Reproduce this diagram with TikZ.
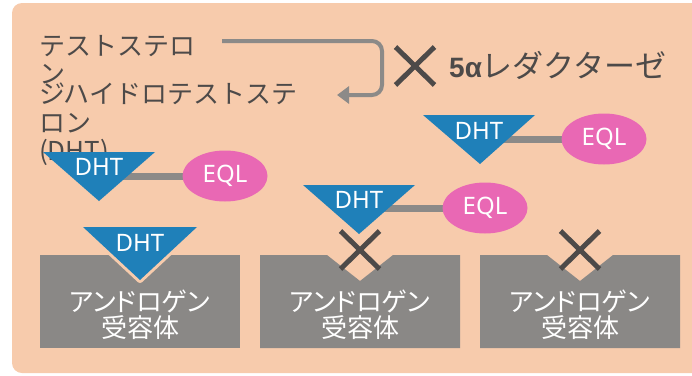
\documentclass[tikz,border=0pt]{standalone}
\usepackage{fontspec}
\setmainfont{Noto Sans CJK JP}
\newfontfamily\jpprop[RawFeature=+palt]{Noto Sans CJK JP}
\newfontfamily\latinsans{Noto Sans}
\newfontfamily\enzfont{Liberation Sans}
\usetikzlibrary{arrows.meta,shapes.geometric,shapes.misc}
\definecolor{peach}{HTML}{F7CBAC}
\definecolor{boxgray}{HTML}{8A8886}
\definecolor{linegray}{HTML}{8C8A88}
\definecolor{dhtblue}{HTML}{1F80B9}
\definecolor{eqlpink}{HTML}{E968B4}
\definecolor{darktext}{HTML}{4D4A49}
\pgfdeclarelayer{back}
\pgfdeclarelayer{links}
\pgfsetlayers{back,links,main}
\tikzset{
  toptext/.style={anchor=base west, inner sep=0pt, text=darktext, font=\fontsize{26}{29}\selectfont},
  arrowline/.style={draw=linegray, line width=4pt, rounded corners=10pt, -{Triangle[length=12pt,width=17pt]}},
  link/.style={draw=linegray, line width=7pt},
  dhtlabel/.style={inner sep=0pt, text=white, font=\latinsans\fontsize{24}{26}\selectfont},
  eql/.style={ellipse, fill=eqlpink, inner sep=0pt, minimum width=85pt, minimum height=51pt, text=white, font=\latinsans\fontsize{24}{26}\selectfont},
  crossmark/.style={cross out, draw=darktext, line width=5pt, inner sep=0pt, minimum width=34pt, minimum height=33pt},
  boxtext/.style={inner sep=0pt, text=white, align=center, font=\jpprop\fontsize{26}{26}\selectfont},
}
\begin{document}
\begin{tikzpicture}[x=1pt,y=-1pt]
\useasboundingbox (0,0) rectangle (692,375);
\begin{pgfonlayer}{back}
\begin{scope}
\clip (0,0) rectangle (692,375);
\fill[peach, rounded corners=10pt] (12,3) rectangle (720,373);
\end{scope}
\end{pgfonlayer}

% top texts
\node[toptext] (ts1) at (39,55) {テストステロ};
\node[toptext] (ts2) at (39,83) {ン};
\node[toptext] (dh1) at (39,103) {ジハイドロテストステ};
\node[toptext] (dh2) at (39,132) {ロン};
\node[toptext] (dh3) at (39,160) {(DHT)};

% conversion arrow
\coordinate (a0) at (222,41);
\coordinate (a1) at (337,95);
\draw[arrowline] (a0) -- (382,41) -- (382,95) -- (a1);

% blocked enzyme
\node[crossmark] (x0) at (415,66) {};
\node[anchor=base west, inner sep=0pt, text=darktext] (enz) at (449,77)
  {{\enzfont\bfseries\fontsize{28}{30}\selectfont 5α}{\fontsize{31}{31}\selectfont レダクターゼ}};

% group A (top left)
\fill[dhtblue] (43,152) -- (155,152) -- (99,201) -- cycle;
\node[dhtlabel] (dhtA) at (99,167) {DHT};
\node[eql] (eqlA) at (225,176) {EQL};
% group B (top right)
\fill[dhtblue] (423,115) -- (535,115) -- (480,164) -- cycle;
\node[dhtlabel] (dhtB) at (479,131) {DHT};
\node[eql] (eqlB) at (604,139) {EQL};
% group C (middle)
\fill[dhtblue] (303,185) -- (415,185) -- (359,234) -- cycle;
\node[dhtlabel] (dhtC) at (359,200) {DHT};
\node[eql] (eqlC) at (485,208) {EQL};

\begin{pgfonlayer}{links}
\draw[link] (eqlA.center) -- (eqlA.center -| dhtA.center);
\draw[link] (eqlB.center) -- (eqlB.center -| dhtB.center);
\draw[link] (eqlC.center) -- (eqlC.center -| dhtC.center);
\end{pgfonlayer}

% receptors
\fill[boxgray] (40,255) rectangle (240,348);
\fill[boxgray] (260,255) -- (327,255) -- (360,281) -- (393,255) -- (460,255) -- (460,348) -- (260,348) -- cycle;
\fill[boxgray] (480,255) -- (547,255) -- (580,281) -- (613,255) -- (680,255) -- (680,348) -- (480,348) -- cycle;

% bound DHT
\draw[peach, fill=peach, line width=6pt, line join=round] (83,227) -- (197,227) -- (140,280) -- cycle;
\fill[dhtblue] (83,227) -- (197,227) -- (140,280) -- cycle;
\node[dhtlabel] (dhtD) at (140,243) {DHT};

\node[crossmark] (x1) at (360,250) {};
\node[crossmark] (x2) at (580,250) {};

\node[boxtext] (r1) at (140,315) {アンドロゲン\\受容体};
\node[boxtext] (r2) at (360,315) {アンドロゲン\\受容体};
\node[boxtext] (r3) at (580,315) {アンドロゲン\\受容体};
\end{tikzpicture}
\end{document}
